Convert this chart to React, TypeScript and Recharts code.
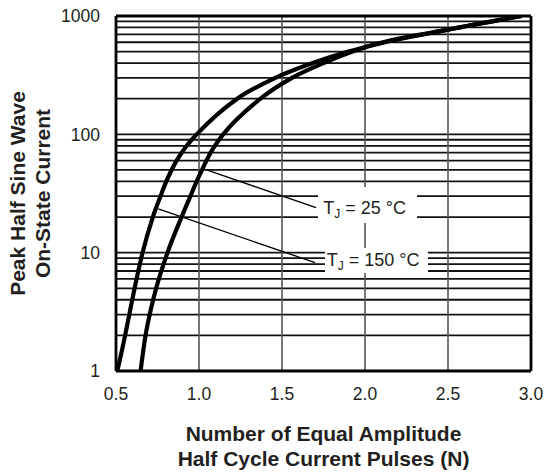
import React from 'react';
import { LineChart, Line, XAxis, YAxis, ReferenceLine, ReferenceDot } from 'recharts';

const xTicks = [0.5, 1.0, 1.5, 2.0, 2.5, 3.0];
const yTicks = [1, 10, 100, 1000];
const xGridValues = [1.0, 1.5, 2.0, 2.5];
const yGridValues = [2, 3, 4, 5, 6, 7, 8, 9, 10, 20, 30, 40, 50, 60, 70, 80, 90, 100, 200, 300, 400, 500, 600, 700, 800, 900];

// T_J = 150 °C (left curve)
const curve150 = [
  { x: 0.508, v: 1 },
  { x: 0.555, v: 2 },
  { x: 0.58, v: 3 },
  { x: 0.612, v: 5 },
  { x: 0.66, v: 10 },
  { x: 0.722, v: 20 },
  { x: 0.768, v: 30 },
  { x: 0.803, v: 40 },
  { x: 0.835, v: 50 },
  { x: 0.865, v: 60 },
  { x: 0.896, v: 70 },
  { x: 0.926, v: 80 },
  { x: 0.956, v: 90 },
  { x: 0.986, v: 100 },
  { x: 1.23, v: 200 },
  { x: 1.46, v: 300 },
  { x: 1.685, v: 400 },
  { x: 1.9, v: 500 },
  { x: 2.02, v: 555 },
  { x: 2.5, v: 767 },
  { x: 2.944, v: 1000 },
];

// T_J = 25 °C (right curve)
const curve25 = [
  { x: 0.648, v: 1 },
  { x: 0.678, v: 2 },
  { x: 0.703, v: 3 },
  { x: 0.742, v: 5 },
  { x: 0.81, v: 10 },
  { x: 0.895, v: 20 },
  { x: 0.948, v: 30 },
  { x: 0.986, v: 40 },
  { x: 1.018, v: 50 },
  { x: 1.045, v: 60 },
  { x: 1.07, v: 70 },
  { x: 1.096, v: 80 },
  { x: 1.121, v: 90 },
  { x: 1.146, v: 100 },
  { x: 1.37, v: 200 },
  { x: 1.56, v: 300 },
  { x: 1.75, v: 400 },
  { x: 1.925, v: 500 },
  { x: 2.02, v: 555 },
  { x: 2.5, v: 767 },
  { x: 2.944, v: 1000 },
];

const leader25 = [
  { x: 1.046, v: 50 },
  { x: 1.705, v: 24.0 },
];
const leader150 = [
  { x: 0.755, v: 23.4 },
  { x: 1.699, v: 8.24 },
];

const labelTemps = ['25 °C', '150 °C'];
const labelX = [1.749, 1.769];
const labelV = [21.1, 7.72];

const FONT = '"Liberation Sans", Arial, Helvetica, sans-serif';
const TEXT = '#231f20';

const boxStyles = [
  { dx: -5.3, top: -27.3, w: 99, h: 36 },
  { dx: -1.7, top: -18, w: 103, h: 25 },
];

const makeLabelShape = (i: number) => (props: any) => {
  const { cx, cy } = props;
  const b = boxStyles[i];
  return (
    <g>
      <rect x={cx + b.dx} y={cy + b.top} width={b.w} height={b.h} fill="#ffffff" />
      <text x={cx} y={cy} fontSize={18} fontFamily={FONT} fill={TEXT} style={{ whiteSpace: 'pre' }}>
        <tspan>T</tspan>
        <tspan fontSize={12} dy={4}>J</tspan>
        <tspan dy={-4}>{' = ' + labelTemps[i]}</tspan>
      </text>
    </g>
  );
};

const XTitle = (props: any) => {
  const vb = props.viewBox || {};
  const cx = vb.x + vb.width / 2;
  const y = vb.y;
  return (
    <text textAnchor="middle" fontSize={21} fontWeight="bold" fontFamily={FONT} fill={TEXT}>
      <tspan x={cx} y={y + 70}>Number of Equal Amplitude</tspan>
      <tspan x={cx} y={y + 95}>Half Cycle Current Pulses (N)</tspan>
    </text>
  );
};

const YTitle = (props: any) => {
  const vb = props.viewBox || {};
  const cy = vb.y + vb.height / 2;
  return (
    <g>
      <text x={25} y={cy} transform={`rotate(-90 25 ${cy})`} textAnchor="middle" fontSize={21} fontWeight="bold" fontFamily={FONT} fill={TEXT}>
        Peak Half Sine Wave
      </text>
      <text x={50} y={cy} transform={`rotate(-90 50 ${cy})`} textAnchor="middle" fontSize={21} fontWeight="bold" fontFamily={FONT} fill={TEXT}>
        On-State Current
      </text>
    </g>
  );
};

export default function App() {
  return (
    <div style={{ position: 'absolute', left: 0, top: 0, width: 546, height: 473, background: '#fff' }}>
      <LineChart width={546} height={473} margin={{ top: 16, right: 15, bottom: 0, left: 0 }}>
        <XAxis
          type="number"
          dataKey="x"
          domain={[0.5, 3]}
          ticks={xTicks}
          allowDataOverflow
          axisLine={false}
          tickLine={false}
          tickSize={0}
          tickMargin={17}
          height={102}
          tickFormatter={(t: number) => t.toFixed(1)}
          tick={{ fill: TEXT, fontSize: 17.5, fontFamily: FONT }}
          label={{ content: XTitle }}
        />
        <YAxis
          type="number"
          dataKey="v"
          scale="log"
          domain={[1, 1000]}
          ticks={yTicks}
          allowDataOverflow
          axisLine={false}
          tickLine={false}
          tickSize={0}
          tickMargin={16}
          width={116}
          tick={{ fill: TEXT, fontSize: 17.5, fontFamily: FONT }}
          label={{ content: YTitle }}
        />
        {yGridValues.map((v) => (
          <ReferenceLine key={'h' + v} y={v} stroke="#111" strokeWidth={1.8} />
        ))}
        {xGridValues.map((v) => (
          <ReferenceLine key={'v' + v} x={v} stroke="#555" strokeWidth={1.6} />
        ))}
        <ReferenceLine x={0.5} stroke="#000" strokeWidth={2.8} />
        <ReferenceLine x={3} stroke="#000" strokeWidth={2.8} />
        <ReferenceLine y={1} stroke="#000" strokeWidth={2.8} />
        <ReferenceLine y={1000} stroke="#000" strokeWidth={2.8} />
        <Line data={curve150} dataKey="v" type="monotone" stroke="#000" strokeWidth={4.2} dot={false} isAnimationActive={false} />
        <Line data={curve25} dataKey="v" type="monotone" stroke="#000" strokeWidth={4.2} dot={false} isAnimationActive={false} />
        <Line data={leader25} dataKey="v" type="linear" stroke="#000" strokeWidth={1.3} dot={false} isAnimationActive={false} />
        <Line data={leader150} dataKey="v" type="linear" stroke="#000" strokeWidth={1.3} dot={false} isAnimationActive={false} />
        <ReferenceDot x={labelX[0]} y={labelV[0]} r={0} shape={makeLabelShape(0)} />
        <ReferenceDot x={labelX[1]} y={labelV[1]} r={0} shape={makeLabelShape(1)} />
      </LineChart>
    </div>
  );
}
